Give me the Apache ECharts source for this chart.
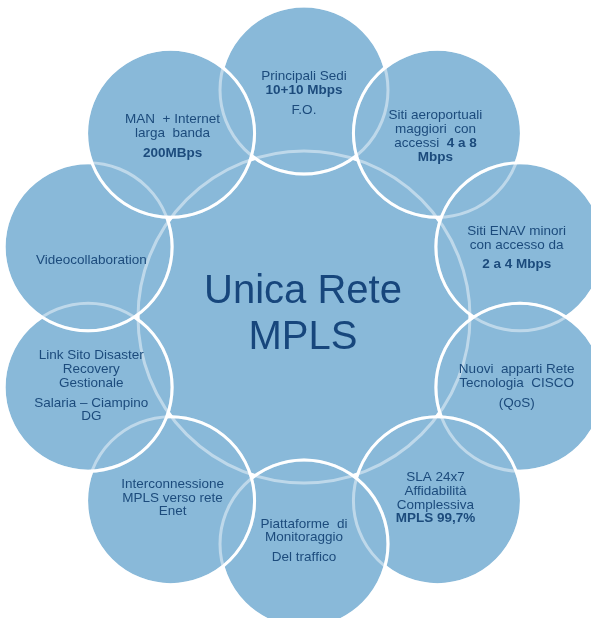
<!DOCTYPE html>
<html><head><meta charset="utf-8">
<script src="https://cdn.jsdelivr.net/npm/echarts@6/dist/echarts.min.js"></script>
<style>html,body{margin:0;padding:0;background:#fff}#c{width:591px;height:618px}</style>
</head><body><div id="c"></div>
<script>
// ---- data ----
const centerLabel = ['Unica Rete', 'MPLS'];
const outerLabels = [
  '{n|Principali Sedi}\n{b|10+10 Mbps}\n{g| }\n{n|F.O.}',
  '{n|Siti aeroportuali}\n{n|maggiori  con}\n{n|accessi  }{b|4 a 8}\n{b|Mbps}',
  '{n|Siti ENAV minori}\n{n|con accesso da}\n{g| }\n{b|2 a 4 Mbps}',
  '{n|Nuovi  apparti Rete}\n{n|Tecnologia  CISCO}\n{g| }\n{n|(QoS)}',
  '{n|SLA 24x7}\n{n|Affidabilità}\n{n|Complessiva}\n{b|MPLS 99,7%}',
  '{n|Piattaforme  di}\n{n|Monitoraggio}\n{g| }\n{n|Del traffico}',
  '{n|Interconnessione}\n{n|MPLS verso rete}\n{n|Enet}',
  '{n|Link Sito Disaster}\n{n|Recovery}\n{n|Gestionale}\n{g| }\n{n|Salaria – Ciampino}\n{n|DG}',
  '{e| }\n{n|Videocollaboration}',
  '{n|MAN  + Internet}\n{n|larga  banda}\n{g| }\n{b|200MBps}'
];
const stepAngle = 360 / outerLabels.length;

// ---- style ----
const FILL = '#89b9d9';
const TEXT = '#1c4b7c';
const FONT = '"Liberation Sans", Arial, sans-serif';
const R_CENTER = 166, R_OUTER = 84, TEXT_RING = 0.985;

const ringData = outerLabels.map((t, i) => [1, i * stepAngle, i]);
const rich = {
  n: {fontSize: 13.5, fontFamily: FONT, fill: TEXT, color: TEXT, lineHeight: 13.8},
  b: {fontSize: 13.5, fontFamily: FONT, fill: TEXT, color: TEXT, lineHeight: 13.8, fontWeight: 'bold'},
  g: {fontSize: 4, lineHeight: 6},
  e: {fontSize: 4, lineHeight: 24}
};

const chart = echarts.init(document.getElementById('c'));
chart.setOption({
  animation: false,
  backgroundColor: '#fff',
  polar: {center: [304, 317], radius: 227},
  angleAxis: {type: 'value', min: 0, max: 360, startAngle: 90, clockwise: true, show: false},
  radiusAxis: {type: 'value', min: 0, max: 1, show: false},
  series: [
    {
      type: 'custom', coordinateSystem: 'polar', z: 1, silent: true,
      data: [[0, 0]],
      renderItem: (p, api) => {
        const c = api.coord([0, 0]);
        return {type: 'circle', shape: {cx: c[0], cy: c[1], r: R_CENTER},
          style: {fill: FILL, stroke: '#fff', lineWidth: 3}};
      }
    },
    {
      type: 'custom', coordinateSystem: 'polar', z: 2, silent: true,
      data: ringData,
      renderItem: (p, api) => {
        const c = api.coord([api.value(0), api.value(1)]);
        return {type: 'circle', z2: api.value(2), shape: {cx: c[0], cy: c[1], r: R_OUTER},
          style: {fill: FILL, stroke: '#fff', lineWidth: 3}};
      }
    },
    {
      type: 'custom', coordinateSystem: 'polar', z: 3, silent: true,
      data: [[0, 0, -1]].concat(ringData),
      renderItem: (p, api) => {
        const c = api.coord([api.value(0), api.value(1)]);
        const r = api.value(2) < 0 ? R_CENTER : R_OUTER;
        return {type: 'circle', shape: {cx: c[0], cy: c[1], r: r},
          style: {fill: 'none', stroke: 'rgba(255,255,255,0.45)', lineWidth: 3}};
      }
    },
    {
      type: 'custom', coordinateSystem: 'polar', z: 4, silent: true,
      data: ringData,
      renderItem: (p, api) => {
        const c = api.coord([TEXT_RING, api.value(1)]);
        return {type: 'text', style: {text: outerLabels[api.value(2)], x: c[0], y: c[1],
          align: 'center', verticalAlign: 'middle', rich: rich, fill: TEXT}};
      }
    },
    {
      type: 'custom', coordinateSystem: 'polar', z: 4, silent: true,
      data: [[0, 0]],
      renderItem: (p, api) => {
        const c = api.coord([0, 0]);
        return {type: 'text', style: {text: centerLabel.join('\n'), x: c[0] - 1, y: c[1] - 2,
          align: 'center', verticalAlign: 'middle', fontSize: 40, lineHeight: 46,
          fontFamily: FONT, fill: '#17467c'}};
      }
    }
  ]
});
</script></body></html>
